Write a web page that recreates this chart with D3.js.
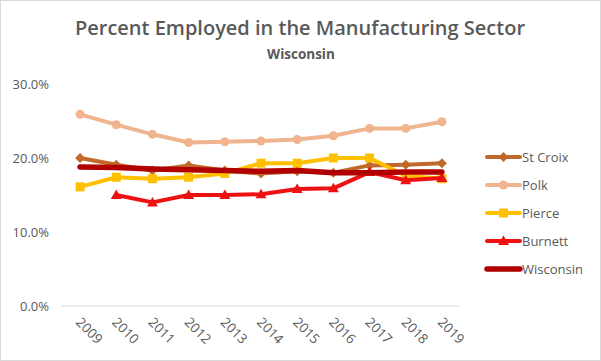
<!DOCTYPE html>
<html>
<head>
<meta charset="utf-8">
<script src="https://cdn.jsdelivr.net/npm/d3@7"></script>
<style>
  body { margin: 0; background: #fff; }
  svg { display: block; font-family: 'Open Sans', 'Liberation Sans', sans-serif; }
</style>
</head>
<body>
<svg class="chart"></svg>
<script>
const years = ['2009', '2010', '2011', '2012', '2013', '2014', '2015', '2016', '2017', '2018', '2019']
const stCroix = [20.0, 19.1, 18.3, 19.0, 18.3, 17.9, 18.2, 18.0, 19.0, 19.1, 19.3]
const polk = [25.9, 24.5, 23.2, 22.1, 22.2, 22.3, 22.5, 23.0, 24.0, 24.0, 24.9]
const pierce = [16.1, 17.4, 17.2, 17.4, 17.9, 19.3, 19.3, 20.0, 20.0, 17.6, 17.2]
const burnett = [null, 15.0, 14.0, 15.0, 15.0, 15.1, 15.8, 15.9, 18.1, 17.0, 17.3]
const wisconsin = [18.8, 18.7, 18.5, 18.4, 18.3, 18.2, 18.3, 18.0, 18.0, 18.1, 18.1]
const yTicks = [0, 10, 20, 30]

const series = [
  { name: 'St Croix', values: stCroix, color: '#C0692B', marker: 'diamond', width: 4 },
  { name: 'Polk', values: polk, color: '#F0B48E', marker: 'circle', width: 4 },
  { name: 'Pierce', values: pierce, color: '#FFC000', marker: 'square', width: 4 },
  { name: 'Burnett', values: burnett, color: '#EE1111', marker: 'triangle', width: 4 },
  { name: 'Wisconsin', values: wisconsin, color: '#B00000', marker: null, width: 5.5 }
]

const width = 601
const height = 361
const margin = { left: 62, right: 141, top: 84, bottom: 55 }

const svg = d3.select('.chart')
  .attr('width', width)
  .attr('height', height)

svg.append('rect')
  .attr('x', 0.5).attr('y', 0.5)
  .attr('width', width - 1).attr('height', height - 1)
  .style('fill', '#fff')
  .style('stroke', '#D9D9D9')

svg.append('text')
  .attr('x', 300).attr('y', 35)
  .style('text-anchor', 'middle')
  .style('font-size', '20px')
  .style('font-weight', 600)
  .style('fill', '#595959')
  .text('Percent Employed in the Manufacturing  Sector')

svg.append('text')
  .attr('x', 301).attr('y', 59)
  .style('text-anchor', 'middle')
  .style('font-size', '13.5px')
  .style('font-weight', 700)
  .style('fill', '#595959')
  .text('Wisconsin')

var xScale = d3.scaleBand()
  .domain(years)
  .range([margin.left, width - margin.right])
var yScale = d3.scaleLinear()
  .domain([0, 30])
  .range([height - margin.bottom, margin.top])

var xPos = (d) => xScale(d) + xScale.bandwidth() / 2

// baseline only, no gridlines
svg.append('line')
  .attr('x1', margin.left).attr('x2', width - margin.right)
  .attr('y1', yScale(0)).attr('y2', yScale(0))
  .style('stroke', '#D9D9D9')

var yAxis = d3.axisLeft(yScale)
  .tickValues(yTicks)
  .tickSize(0)
  .tickPadding(13)
  .tickFormat((d) => d.toFixed(1) + '%')

svg.append('g')
  .attr('transform', 'translate(' + margin.left + ',0)')
  .call(yAxis)
  .call((g) => g.select('.domain').remove())
  .selectAll('text')
  .style('font-size', '13px')
  .style('fill', '#595959')
  .style('font-family', "'Open Sans', sans-serif")

var xAxis = d3.axisBottom(xScale).tickSize(0)

svg.append('g')
  .attr('transform', 'translate(0,' + yScale(0) + ')')
  .call(xAxis)
  .call((g) => g.select('.domain').remove())
  .selectAll('text')
  .attr('dy', 0)
  .attr('y', 0)
  .attr('transform', 'translate(-5,17) rotate(45)')
  .style('text-anchor', 'start')
  .style('font-size', '13.5px')
  .style('fill', '#595959')
  .style('font-family', "'Open Sans', sans-serif")

function drawMarker(g, type, color) {
  if (type === 'circle') {
    g.append('circle').attr('r', 4.5).style('fill', color)
  } else if (type === 'square') {
    g.append('rect').attr('x', -4.5).attr('y', -4.5).attr('width', 9).attr('height', 9).style('fill', color)
  } else if (type === 'diamond') {
    g.append('path').attr('d', 'M0,-5 L5,0 L0,5 L-5,0 Z').style('fill', color)
  } else if (type === 'triangle') {
    g.append('path').attr('d', 'M0,-5.5 L5.5,4 L-5.5,4 Z').style('fill', color)
  }
}

series.forEach((s) => {
  var pts = years.map((y, i) => ({ year: y, v: s.values[i] })).filter((d) => d.v !== null)
  var line = d3.line()
    .x((d) => xPos(d.year))
    .y((d) => yScale(d.v))

  svg.append('path')
    .datum(pts)
    .attr('d', line)
    .style('fill', 'none')
    .style('stroke', s.color)
    .style('stroke-width', s.width)
    .style('stroke-linejoin', 'round')
    .style('stroke-linecap', 'round')

  if (s.marker) {
    pts.forEach((d) => {
      var g = svg.append('g').attr('transform', 'translate(' + xPos(d.year) + ',' + yScale(d.v) + ')')
      drawMarker(g, s.marker, s.color)
    })
  }
})

// legend
var legend = svg.append('g')
series.forEach((s, i) => {
  var y = 157 + i * 28
  legend.append('line')
    .attr('x1', 487).attr('x2', 520)
    .attr('y1', y).attr('y2', y)
    .style('stroke', s.color)
    .style('stroke-width', s.width)
    .style('stroke-linecap', 'round')
  if (s.marker) {
    var g = legend.append('g').attr('transform', 'translate(503.5,' + y + ')')
    drawMarker(g, s.marker, s.color)
  }
  legend.append('text')
    .attr('x', 522).attr('y', y + 4.5)
    .style('font-size', '13px')
    .style('fill', '#595959')
    .text(s.name)
})
</script>
</body>
</html>
